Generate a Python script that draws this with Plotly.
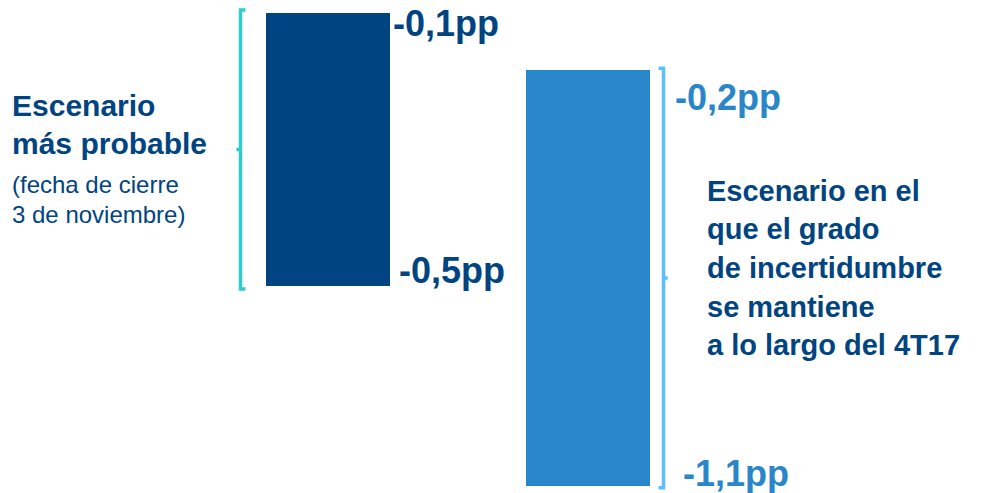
import plotly.graph_objects as go

# ---- data ----
categories = ["Escenario más probable", "Escenario con incertidumbre"]
top_values = [-0.1, -0.2]
bottom_values = [-0.5, -1.1]
value_labels_top = ["-0,1pp", "-0,2pp"]
value_labels_bottom = ["-0,5pp", "-1,1pp"]
left_title = ["Escenario", "más probable"]
left_note = ["(fecha de cierre", "3 de noviembre)"]
right_text = ["Escenario en el", "que el grado", "de incertidumbre", "se mantiene", "a lo largo del 4T17"]

NAVY = "#004481"
MID = "#2A86CA"
TEAL = "#2DCCCD"
LIGHT = "#5BBEFF"
FONT = "Liberation Sans, Arial, sans-serif"

OFF = 8  # page body margin
W, H = 990 - OFF, 493 - OFF
BW = 0.477
PXU = 260.0
XC0 = 328 - OFF
xpos = list(range(len(categories)))

fig = go.Figure()
bar_colors = [NAVY, MID]
yrefs = ["y", "y2"]
for i, cat in enumerate(categories):
    fig.add_trace(go.Bar(
        x=[xpos[i]], y=[bottom_values[i] - top_values[i]], base=[top_values[i]],
        name=cat, marker=dict(color=bar_colors[i], line=dict(width=0)),
        width=BW, yaxis=yrefs[i], showlegend=False, hoverinfo="skip"))

# brackets
def bracket(xc, top, bot, yref, color, hook_dir, tick_dir, pad):
    hook = 0.019 * hook_dir
    tick = 0.016 * tick_dir
    t = top + pad
    b = bot - pad
    mid = (top + bot) / 2
    return [
        dict(type="path", xref="x", yref=yref,
             path=f"M {xc+hook},{t} L {xc},{t} L {xc},{b} L {xc+hook},{b}",
             line=dict(color=color, width=3.5)),
        dict(type="line", xref="x", yref=yref, x0=xc, x1=xc + tick, y0=mid, y1=mid,
             line=dict(color=color, width=3.5)),
    ]

shapes = []
shapes += bracket(xpos[0] - BW / 2 - 0.098, top_values[0], bottom_values[0], "y", TEAL, 1, -1, 0.0045)
shapes += bracket(xpos[1] + BW / 2 + 0.052, top_values[1], bottom_values[1], "y2", LIGHT, -1, 1, 0.004)

annotations = []
# value labels
lab_cfg = [
    (0, value_labels_top[0], top_values[0], "y", NAVY, 1, -10),
    (0, value_labels_bottom[0], bottom_values[0], "y", NAVY, 7, 16),
    (1, value_labels_top[1], top_values[1], "y2", MID, 23, -27),
    (1, value_labels_bottom[1], bottom_values[1], "y2", MID, 31, 13),
]
for i, txt, yv, yr, col, xs, ys in lab_cfg:
    annotations.append(dict(
        x=xpos[i] + BW / 2, y=yv, xref="x", yref=yr, text=f"<b>{txt}</b>",
        showarrow=False, xanchor="left", yanchor="middle", xshift=xs, yshift=ys,
        font=dict(family=FONT, size=36, color=col)))

def px_(x):
    return (x - OFF) / W

def py(y):
    return 1 - (y - OFF) / H

left_title_y = [106, 143]
for txt, yy in zip(left_title, left_title_y):
    annotations.append(dict(x=px_(10), y=py(yy), xref="paper", yref="paper", text=f"<b>{txt}</b>",
                            showarrow=False, xanchor="left", yanchor="middle",
                            font=dict(family=FONT, size=30, color=NAVY)))
left_note_y = [184, 214]
for txt, yy in zip(left_note, left_note_y):
    annotations.append(dict(x=px_(10), y=py(yy), xref="paper", yref="paper", text=txt,
                            showarrow=False, xanchor="left", yanchor="middle",
                            font=dict(family=FONT, size=24, color=NAVY)))
right_y = [191, 229.5, 268, 306.5, 345]
for txt, yy in zip(right_text, right_y):
    annotations.append(dict(x=px_(705), y=py(yy), xref="paper", yref="paper", text=f"<b>{txt}</b>",
                            showarrow=False, xanchor="left", yanchor="middle",
                            font=dict(family=FONT, size=29, color=NAVY)))

# axis ranges so that the floating bars sit where the reference draws them
y1_top = top_values[0] + (13 - OFF) / 682.5
y1_bot = bottom_values[0] - (493 - 286) / 682.5
y2_top = top_values[1] + (70 - OFF) / 462.2
y2_bot = bottom_values[1] - (493 - 486) / 462.2

fig.update_layout(
    width=W, height=H,
    margin=dict(l=0, r=0, t=0, b=0),
    paper_bgcolor="white", plot_bgcolor="white",
    xaxis=dict(range=[-XC0 / PXU, (W - XC0) / PXU], visible=False, fixedrange=True),
    yaxis=dict(range=[y1_bot, y1_top], visible=False, fixedrange=True),
    yaxis2=dict(range=[y2_bot, y2_top], visible=False, overlaying="y", fixedrange=True),
    shapes=shapes,
    annotations=annotations,
    bargap=0,
)

fig.write_html("out.html", config={"displayModeBar": False})
